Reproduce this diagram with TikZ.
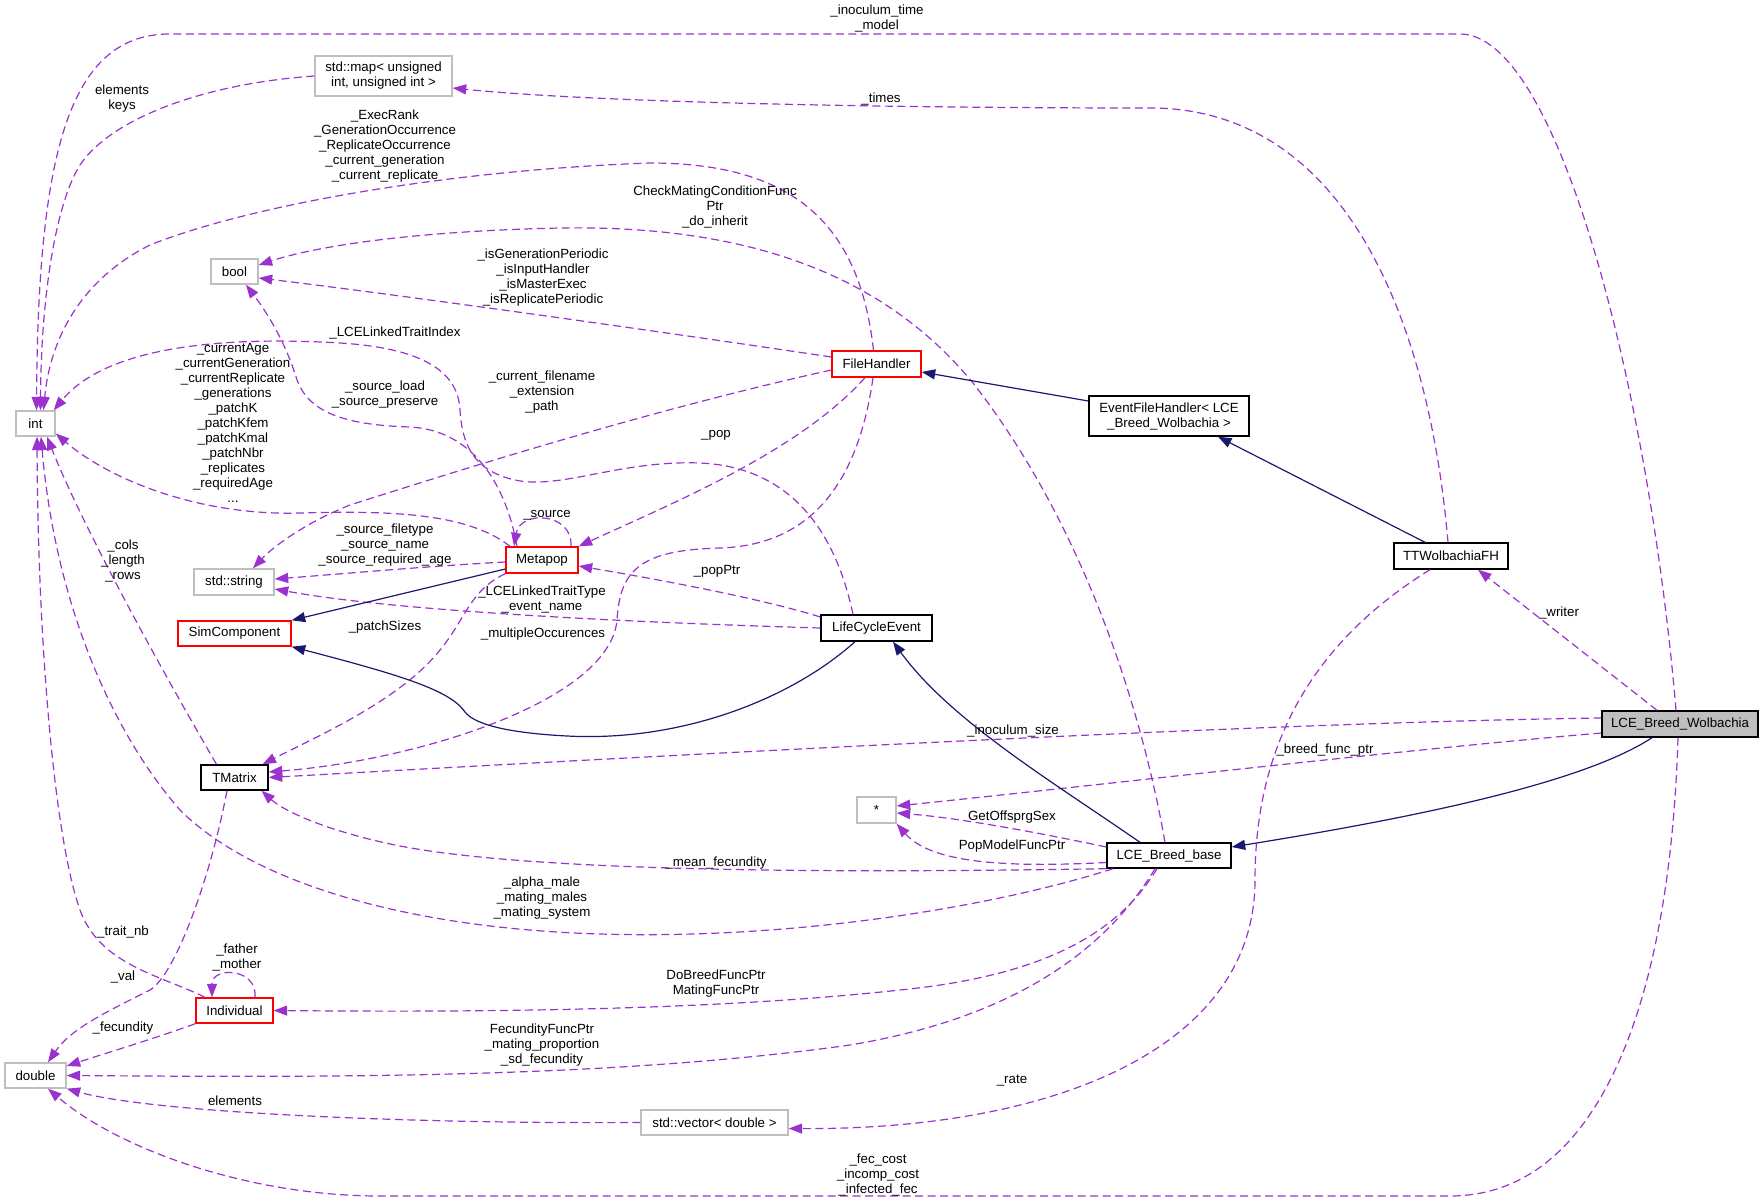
\documentclass[tikz,border=0pt]{standalone}
\usepackage{fontspec}
\setmainfont{Liberation Sans}
\usetikzlibrary{arrows.meta,calc}
\definecolor{edgep}{HTML}{9A32CD}
\definecolor{edgen}{HTML}{191970}
\definecolor{boxgray}{HTML}{BFBFBF}
\tikzset{
  boxblack/.style={draw=black, line width=1.4pt, fill=white, inner sep=0pt, align=center},
  boxred/.style={draw=red, line width=1.4pt, fill=white, inner sep=0pt, align=center},
  boxgrey/.style={draw=boxgray, line width=1.4pt, fill=white, inner sep=0pt, align=center},
  boxmain/.style={draw=black, line width=1.4pt, fill=boxgray, inner sep=0pt, align=center},
  usedge/.style={draw=edgep, line width=1.2pt, dash pattern=on 8pt off 4.5pt, -{Triangle[length=13.5pt,width=10pt]}},
  inhedge/.style={draw=edgen, line width=1.2pt, -{Triangle[length=13.5pt,width=10pt]}},
  lbl/.style={align=center, inner sep=0pt, text=black},
}
\begin{document}
\begin{tikzpicture}[x=1pt,y=-1pt,font=\fontsize{13.3}{15}\selectfont]
\useasboundingbox (0,0) rectangle (1764,1204);

% ---------- nodes ----------
\node[boxgrey, minimum width=39pt, minimum height=25pt] (int) at (35.5,423.5) {int};
\node[boxgrey, minimum width=137pt, minimum height=40pt] (stdmap) at (383.5,76) {std::map< unsigned\\int, unsigned int >};
\node[boxgrey, minimum width=47pt, minimum height=25pt] (bool) at (234.5,271.5) {bool};
\node[boxgrey, minimum width=80pt, minimum height=26pt] (stdstring) at (234,582) {std::string};
\node[boxred, minimum width=113pt, minimum height=25pt] (SimComponent) at (234.5,633.5) {SimComponent};
\node[boxblack, minimum width=67pt, minimum height=25pt] (TMatrix) at (234.5,777.5) {TMatrix};
\node[boxred, minimum width=77pt, minimum height=25pt] (Individual) at (234.5,1010.5) {Individual};
\node[boxgrey, minimum width=61pt, minimum height=25pt] (double) at (35.5,1075.5) {double};
\node[boxgrey, minimum width=147pt, minimum height=25pt] (stdvector) at (714.5,1122.5) {std::vector< double >};
\node[boxred, minimum width=72pt, minimum height=26pt] (Metapop) at (542,560) {Metapop};
\node[boxred, minimum width=89pt, minimum height=26pt] (FileHandler) at (876.5,364) {FileHandler};
\node[boxblack, minimum width=111pt, minimum height=26pt] (LifeCycleEvent) at (876.5,628) {LifeCycleEvent};
\node[boxblack, minimum width=160pt, minimum height=40pt] (EFH) at (1169,416) {EventFileHandler< LCE\\\_Breed\_Wolbachia >};
\node[boxblack, minimum width=114pt, minimum height=26pt] (TTW) at (1451,556) {TTWolbachiaFH};
\node[boxmain, minimum width=156pt, minimum height=26pt] (LBW) at (1680,724) {LCE\_Breed\_Wolbachia};
\node[boxgrey, minimum width=39pt, minimum height=26pt] (star) at (876.5,810) {*};
\node[boxblack, minimum width=124pt, minimum height=25pt] (LCEbase) at (1169,855.5) {LCE\_Breed\_base};

% ---------- usage edges ----------
\draw[usedge] ([xshift=-4pt]LBW.north) .. controls (1650,400) and (1560,34) .. (1460,34) -- (170,34) .. controls (70,34) and (38,150) .. ([xshift=1pt]int.north);
\draw[usedge] (stdmap.west) .. controls (200,84) and (110,120) .. (80,165) .. controls (55,205) and (41,300) .. ([xshift=5pt]int.north);
\draw[usedge] ([xshift=-3pt]TTW.north) .. controls (1430,330) and (1350,108) .. (1150,108) .. controls (900,108) and (600,103) .. ([yshift=-12pt]stdmap.east);
\draw[usedge] ([xshift=-3pt]FileHandler.north) .. controls (860,230) and (800,163) .. (650,163) .. controls (450,170) and (250,205) .. (150,245) .. controls (80,280) and (50,340) .. ([xshift=8pt]int.north);
\draw[usedge] ([xshift=-4pt]LCEbase.north) .. controls (1140,700) and (1080,520) .. (973,383) .. controls (880,270) and (740,225) .. (560,228) .. controls (420,231) and (320,245) .. ([yshift=6.5pt]bool.east);
\draw[usedge] ([yshift=7pt]FileHandler.west) .. controls (650,330) and (400,295) .. ([yshift=-6.5pt]bool.east);
\draw[usedge] ([xshift=-25pt]Metapop.north) .. controls (505,480) and (470,430) .. (410,427) .. controls (350,425) and (310,415) .. (297,380) .. controls (285,340) and (265,310) .. ([xshift=11.5pt]bool.south);
\draw[usedge] ([xshift=-23.5pt]LifeCycleEvent.north) .. controls (835,530) and (790,467) .. (700,463) .. controls (620,460) and (560,490) .. (515,480) .. controls (470,470) and (462,440) .. (460,410) .. controls (458,370) and (420,348) .. (340,343) .. controls (240,337) and (110,342) .. ([xshift=-2pt]int.north east);
\draw[usedge] ([xshift=-32pt]Metapop.north) .. controls (470,515) and (400,510) .. (300,513) .. controls (200,516) and (110,480) .. ([yshift=-10pt]int.east);
\draw[usedge] ([xshift=29pt]Metapop.north) .. controls (573,512) and (520,510) .. ([xshift=-28pt]Metapop.north);
\draw[usedge] ([xshift=-11.5pt]FileHandler.south) .. controls (800,450) and (680,500) .. (Metapop.north east);
\draw[usedge] ([yshift=11pt]LifeCycleEvent.west) .. controls (760,598) and (650,578) .. ([yshift=-6pt]Metapop.east);
\draw[usedge] ([yshift=-6pt]FileHandler.west) .. controls (650,410) and (460,470) .. (350,505) .. controls (300,525) and (270,550) .. ([xshift=19pt]stdstring.north);
\draw[usedge] ([yshift=-2pt]Metapop.west) .. controls (430,566) and (340,574) .. ([yshift=3pt]stdstring.east);
\draw[usedge] (LifeCycleEvent.west) .. controls (650,623) and (400,612) .. ([yshift=-7pt]stdstring.east);
\draw[usedge] (Metapop.south west) .. controls (470,590) and (465,620) .. (440,650) .. controls (400,700) and (320,735) .. ([xshift=28pt]TMatrix.north);
\draw[usedge] ([xshift=-3.5pt]FileHandler.south) .. controls (860,470) and (820,545) .. (720,548) .. controls (640,550) and (620,570) .. (617,620) .. controls (610,700) and (420,760) .. ([yshift=5.5pt]TMatrix.east);
\draw[usedge] ([yshift=6pt]LBW.west) .. controls (1300,722) and (800,748) .. (TMatrix.east);
\draw[usedge] ([yshift=-9pt]LBW.west) .. controls (1400,750) and (1100,785) .. ([yshift=4pt]star.east);
\draw[usedge] ([yshift=8.5pt]LCEbase.west) .. controls (1040,833) and (960,818) .. ([yshift=-3pt]star.east);
\draw[usedge] ([yshift=-7pt]LCEbase.west) .. controls (1000,868) and (930,862) .. (star.south east);
\draw[usedge] (LCEbase.south west) .. controls (900,872) and (550,875) .. (400,846) .. controls (330,832) and (285,812) .. ([xshift=27pt]TMatrix.south);
\draw[usedge] ([xshift=-56pt]LCEbase.south) .. controls (1000,905) and (800,940) .. (600,934) .. controls (400,928) and (250,880) .. (180,810) .. controls (110,730) and (55,600) .. ([xshift=5.5pt]int.south);
\draw[usedge] ([xshift=-18pt]TMatrix.north) .. controls (150,650) and (80,520) .. ([xshift=11.5pt]int.south);
\draw[usedge] ([xshift=-29.5pt]Individual.north) .. controls (160,975) and (100,965) .. (80,910) .. controls (55,840) and (38,650) .. ([xshift=1.5pt]int.south);
\draw[usedge] ([xshift=-7.5pt]TMatrix.south) .. controls (210,880) and (175,975) .. (150,990) .. controls (100,1015) and (70,1030) .. ([xshift=12.5pt]double.north);
\draw[usedge] ([xshift=20.5pt]Individual.north) .. controls (258,968) and (212,966) .. ([xshift=-22.5pt]Individual.north);
\draw[usedge] ([xshift=-12pt]LCEbase.south) .. controls (1120,930) and (1050,975) .. (900,990) .. controls (700,1012) and (450,1012) .. (Individual.east);
\draw[usedge] ([xshift=-14pt]LCEbase.south) .. controls (1100,960) and (1000,1020) .. (850,1045) .. controls (600,1080) and (300,1077) .. (double.east);
\draw[usedge] (Individual.south west) .. controls (150,1040) and (100,1055) .. ([yshift=9.5pt]double.east);
\draw[usedge] (stdvector.west) .. controls (400,1124) and (150,1112) .. (double.south east);
\draw[usedge] ([xshift=-21pt]TTW.south) .. controls (1300,650) and (1255,760) .. (1255,880) .. controls (1255,1050) and (1050,1130) .. ([yshift=-6pt]stdvector.east);
\draw[usedge] ([xshift=-23pt]LBW.north) -- ([xshift=27pt]TTW.south);
\draw[usedge] ([xshift=-2pt]LBW.south) .. controls (1670,1000) and (1600,1196) .. (1450,1196) -- (380,1196) .. controls (250,1196) and (120,1150) .. ([xshift=12.5pt]double.south);

% ---------- inheritance edges ----------
\draw[inhedge] ([yshift=-9pt]Metapop.west) -- (SimComponent.north east);
\draw[inhedge] ([xshift=-21.5pt]LifeCycleEvent.south) .. controls (790,700) and (680,742) .. (567,736) .. controls (510,733) and (475,725) .. (465,712) .. controls (450,690) and (400,675) .. (SimComponent.south east);
\draw[inhedge] ([yshift=15pt]EFH.west) -- ([yshift=-8pt]FileHandler.east);
\draw[inhedge] ([xshift=-26pt]TTW.north) -- ([xshift=49pt]EFH.south);
\draw[inhedge] ([xshift=-29pt]LCEbase.north) .. controls (1050,780) and (950,720) .. ([xshift=16.5pt]LifeCycleEvent.south);
\draw[inhedge] ([xshift=-28pt]LBW.south) .. controls (1580,785) and (1400,820) .. ([yshift=8.5pt]LCEbase.east);

% ---------- labels ----------
\node[lbl] (lA) at (877,18.5) {\_inoculum\_time\\\_model};
\node[lbl] (lB) at (122,99) {elements\\keys};
\node[lbl] (lC) at (881,99) {\_times};
\node[lbl] (lD) at (385,146) {\_ExecRank\\\_GenerationOccurrence\\\_ReplicateOccurrence\\\_current\_generation\\\_current\_replicate};
\node[lbl] (lE) at (715,207) {CheckMatingConditionFunc\\Ptr\\\_do\_inherit};
\node[lbl] (lF) at (543,277.5) {\_isGenerationPeriodic\\\_isInputHandler\\\_isMasterExec\\\_isReplicatePeriodic};
\node[lbl] (lG) at (385,395) {\_source\_load\\\_source\_preserve};
\node[lbl] (lH) at (395,333) {\_LCELinkedTraitIndex};
\node[lbl] (lI) at (233,422.5) {\_currentAge\\\_currentGeneration\\\_currentReplicate\\\_generations\\\_patchK\\\_patchKfem\\\_patchKmal\\\_patchNbr\\\_replicates\\\_requiredAge\\...};
\node[lbl] (lJ) at (547,515) {\_source};
\node[lbl] (lK) at (716,435) {\_pop};
\node[lbl] (lL) at (717,571) {\_popPtr};
\node[lbl] (lM) at (542,392) {\_current\_filename\\\_extension\\\_path};
\node[lbl] (lN) at (385,545) {\_source\_filetype\\\_source\_name\\\_source\_required\_age};
\node[lbl] (lO) at (542,599) {\_LCELinkedTraitType\\\_event\_name};
\node[lbl] (lP) at (385,627) {\_patchSizes};
\node[lbl] (lQ) at (543,634) {\_multipleOccurences};
\node[lbl] (lR) at (1013,731) {\_inoculum\_size};
\node[lbl] (lS) at (1325,750) {\_breed\_func\_ptr};
\node[lbl] (lT) at (1012,817) {GetOffsprgSex};
\node[lbl] (lU) at (1012,846) {PopModelFuncPtr};
\node[lbl] (lV) at (716,863) {\_mean\_fecundity};
\node[lbl] (lW) at (542,898.5) {\_alpha\_male\\\_mating\_males\\\_mating\_system};
\node[lbl] (lX) at (123,561) {\_cols\\\_length\\\_rows};
\node[lbl] (lY) at (123,932) {\_trait\_nb};
\node[lbl] (lZ) at (123,977) {\_val};
\node[lbl] (lAA) at (237,957.5) {\_father\\\_mother};
\node[lbl] (lAB) at (716,984) {DoBreedFuncPtr\\MatingFuncPtr};
\node[lbl] (lAC) at (542,1045) {FecundityFuncPtr\\\_mating\_proportion\\\_sd\_fecundity};
\node[lbl] (lAD) at (123,1028) {\_fecundity};
\node[lbl] (lAE) at (235,1101) {elements};
\node[lbl] (lAF) at (1012,1081) {\_rate};
\node[lbl] (lAG) at (1559,613) {\_writer};
\node[lbl] (lAH) at (878,1175) {\_fec\_cost\\\_incomp\_cost\\\_infected\_fec};
\end{tikzpicture}
\end{document}
